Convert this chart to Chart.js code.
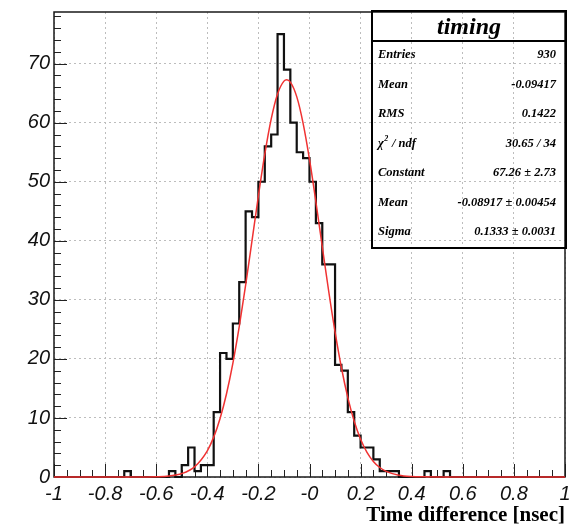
<!DOCTYPE html>
<html><head><meta charset="utf-8">
<script src="https://cdn.jsdelivr.net/npm/chart.js@4"></script>
<style>html,body{margin:0;padding:0;background:#fff;}#wrap{width:569px;height:527px;position:relative;}</style>
</head><body><div id="wrap"><canvas id="c" width="569" height="527"></canvas></div>
<script>
// ---- data ----
const histName = "timing";
const histMin = -1, histMax = 1, binWidth = 0.025;
const binCounts = [
  0,0,0,0,0,0,0,0,0,0,
  0,1,0,0,0,0,0,0,1,0,
  2,5,1,2,2,11,21,20,26,33,
  45,44,50,56,58,75,69,60,55,54,
  50,43,36,36,19,18,11,7,5,5,
  3,1,1,1,0,0,0,0,1,0,
  0,1,0,0,0,0,0,0,0,0,
  0,0,0,0,0,0,0,0,0,0
];
// Gaussian fit curve, sampled values
const fitX = [-1,-0.65,-0.6,-0.55,-0.5,-0.45,-0.4,-0.375,-0.35,-0.325,-0.3,-0.275,-0.25,-0.225,-0.2,-0.175,-0.15,-0.125,-0.1,-0.0892,-0.075,-0.05,-0.025,0,0.025,0.05,0.075,0.1,0.125,0.15,0.175,0.2,0.225,0.25,0.275,0.3,0.35,0.4,0.45,0.5,1];
const fitY = [0,0.01,0.04,0.17,0.58,1.72,4.44,6.75,9.92,14.06,19.25,25.45,32.48,40.02,47.61,54.67,60.61,64.87,67.04,67.26,66.88,64.42,59.90,53.78,46.61,39.00,31.50,24.57,18.50,13.45,9.44,6.40,4.18,2.64,1.61,0.95,0.30,0.08,0.03,0.01,0];
const xTickValues = [-1,-0.8,-0.6,-0.4,-0.2,0,0.2,0.4,0.6,0.8,1];
const xTickLabels = ["-1","-0.8","-0.6","-0.4","-0.2","-0","0.2","0.4","0.6","0.8","1"];
const yTickValues = [0,10,20,30,40,50,60,70];
const yTickLabels = ["0","10","20","30","40","50","60","70"];
const yMax = 78.75;
const xTitle = "Time difference [nsec]";
const statsLabels = ["Entries","Mean","RMS","CHI2","Constant","Mean","Sigma"];
const statsValues = ["930","-0.09417","0.1422","30.65 / 34","67.26 \u00b1 2.73","-0.08917 \u00b1 0.00454","0.1333 \u00b1 0.0031"];

// ---- build points ----
const histPoints = [];
for (let k = 0; k <= binCounts.length; k++) {
  histPoints.push({x: histMin + k * binWidth, y: k < binCounts.length ? binCounts[k] : 0});
}
const fitPoints = fitX.map((v, i) => ({x: v, y: fitY[i]}));

const xMinorStep = 0.05, xMajorStep = 0.2, yMinorStep = 2, yMajorStep = 10;

const decor = {
  id: 'decor',
  beforeDatasetsDraw(chart) {
    const {ctx, chartArea: a, scales: {x, y}} = chart;
    ctx.save();
    ctx.setLineDash([]);
    ctx.strokeStyle = '#222';
    ctx.lineWidth = 1;
    ctx.beginPath();
    const nx = Math.round((histMax - histMin) / xMinorStep);
    for (let i = 0; i <= nx; i++) {
      const v = histMin + i * xMinorStep;
      const r = v / xMajorStep;
      const major = Math.abs(r - Math.round(r)) < 1e-6;
      const px = Math.round(x.getPixelForValue(v)) + 0.5;
      ctx.moveTo(px, a.bottom);
      ctx.lineTo(px, a.bottom - (major ? 13 : 7));
    }
    for (let v = 0; v <= yMax; v += yMinorStep) {
      const major = v % yMajorStep === 0;
      const py = Math.round(y.getPixelForValue(v)) + 0.5;
      ctx.moveTo(a.left, py);
      ctx.lineTo(a.left + (major ? 13 : 7), py);
    }
    ctx.stroke();
    ctx.lineWidth = 1.5;
    ctx.strokeStyle = '#1a1a1a';
    ctx.strokeRect(a.left, a.top, a.right - a.left, a.bottom - a.top);
    ctx.restore();
  },
  afterDraw(chart) {
    const {ctx} = chart;
    const b = {l: 372, t: 11, r: 566, b: 248, sep: 41};
    ctx.save();
    ctx.setLineDash([]);
    ctx.strokeStyle = '#000';
    ctx.lineWidth = 2;
    ctx.strokeRect(b.l, b.t, b.r - b.l, b.b - b.t);
    ctx.beginPath();
    ctx.moveTo(b.l, b.sep); ctx.lineTo(b.r, b.sep);
    ctx.stroke();
    ctx.fillStyle = '#000';
    ctx.font = 'italic bold 24px "Liberation Serif"';
    ctx.textAlign = 'center';
    ctx.textBaseline = 'alphabetic';
    ctx.fillText(histName, (b.l + b.r) / 2, 34);
    const f = 'italic bold 12.5px "Liberation Serif"';
    ctx.font = f;
    ctx.textBaseline = 'middle';
    for (let i = 0; i < statsLabels.length; i++) {
      const yy = 55 + i * 29.5;
      ctx.textAlign = 'left';
      if (statsLabels[i] === 'CHI2') {
        let xx = 378;
        ctx.fillText('\u03c7', xx, yy);
        xx += ctx.measureText('\u03c7').width;
        ctx.font = 'italic bold 8px "Liberation Serif"';
        ctx.fillText('2', xx + 0.5, yy - 5);
        xx += ctx.measureText('2').width + 1;
        ctx.font = f;
        ctx.fillText(' / ndf', xx, yy);
      } else {
        ctx.fillText(statsLabels[i], 378, yy);
      }
      ctx.textAlign = 'right';
      ctx.fillText(statsValues[i], 556, yy);
    }
    ctx.restore();
  }
};

const labelFont = {family: 'Liberation Sans', size: 20, style: 'italic'};

new Chart(document.getElementById('c'), {
  type: 'line',
  data: {
    datasets: [
      {label: 'fit', data: fitPoints, borderColor: 'rgb(240,50,50)', borderWidth: 1.5, pointRadius: 0,
       cubicInterpolationMode: 'monotone', fill: false, order: 0, clip: 4},
      {label: histName, data: histPoints, borderColor: '#111', borderWidth: 2.2, pointRadius: 0,
       stepped: 'before', fill: false, order: 1, clip: 4}
    ]
  },
  options: {
    responsive: false, animation: false, devicePixelRatio: 1,
    layout: {padding: {top: 12, right: 4, left: 0, bottom: 0}},
    plugins: {legend: {display: false}, tooltip: {enabled: false}, title: {display: false}},
    scales: {
      x: {
        type: 'linear', min: histMin, max: histMax,
        afterBuildTicks: s => { s.ticks = xTickValues.map(v => ({value: v})); },
        afterFit: s => { s.height = 50; s.paddingLeft = 0; s.paddingRight = 0; },
        grid: {color: '#bdbdbd', lineWidth: 1, drawTicks: false},
        border: {display: false, dash: [2, 3]},
        ticks: {autoSkip: false, maxRotation: 0, minRotation: 0, padding: 5, color: '#111', font: labelFont,
                callback: (v, i) => xTickLabels[i]},
        title: {display: true, text: xTitle, align: 'end', color: '#000',
                font: {family: 'Liberation Serif', size: 21, weight: 'bold'}, padding: {top: 0, bottom: -1}}
      },
      y: {
        type: 'linear', min: 0, max: yMax,
        afterBuildTicks: s => { s.ticks = yTickValues.map(v => ({value: v})); },
        afterFit: s => { s.width = 54; s.paddingTop = 0; s.paddingBottom = 0; },
        grid: {color: '#bdbdbd', lineWidth: 1, drawTicks: false},
        border: {display: false, dash: [2, 3]},
        ticks: {autoSkip: false, padding: 4, color: '#111', font: labelFont,
                callback: (v, i) => yTickLabels[i]}
      }
    }
  },
  plugins: [decor]
});
</script>
</body></html>
